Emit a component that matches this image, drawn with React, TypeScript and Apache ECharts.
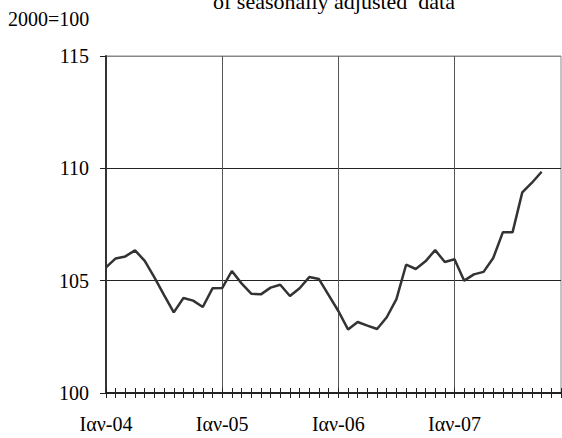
import React, { useEffect, useRef } from "react";
import * as echarts from "echarts";

const monthNames = ["Ιαν", "Φεβ", "Μαρ", "Απρ", "Μαϊ", "Ιουν", "Ιουλ", "Αυγ", "Σεπ", "Οκτ", "Νοε", "Δεκ"];
const years = ["04", "05", "06", "07"];
const categories: string[] = years.flatMap((y) => monthNames.map((m) => `${m}-${y}`));

const indexValues: (number | null)[] = [
  105.59, 105.99, 106.08, 106.35, 105.88, 105.15, 104.36, 103.59, 104.23, 104.11, 103.83, 104.66,
  104.67, 105.43, 104.88, 104.42, 104.39, 104.69, 104.82, 104.32, 104.66, 105.16, 105.07, 104.36,
  103.65, 102.83, 103.16, 103.0, 102.85, 103.37, 104.18, 105.71, 105.52, 105.86, 106.36, 105.83,
  105.95, 105.0, 105.28, 105.39, 106.01, 107.16, 107.16, 108.93, 109.36, 109.85,
];

const yTicks = { min: 100, max: 115, interval: 5 };
const titleText = "of seasonally adjusted  data";
const unitText = "2000=100";

const FONT = "'Liberation Serif', 'Times New Roman', serif";

export default function App() {
  const ref = useRef<HTMLDivElement>(null);
  useEffect(() => {
    document.body.style.margin = "0";
    if (!ref.current) return;
    const chart = echarts.init(ref.current, null, { renderer: "svg" });
    const isJan = (idx: number) => idx % 12 === 0;
    chart.setOption({
      animation: false,
      backgroundColor: "#fff",
      textStyle: { fontFamily: FONT },
      grid: {
        left: 106,
        top: 56,
        width: 455,
        height: 337,
        show: true,
        borderColor: "#888",
        borderWidth: 1,
        backgroundColor: "transparent",
      },
      graphic: [
        {
          type: "text",
          x: 8,
          y: 19,
          style: {
            text: unitText,
            font: "20px 'Liberation Serif', 'Times New Roman', serif",
            fill: "#000",
            verticalAlign: "middle",
          },
        },
        {
          type: "text",
          x: 334,
          y: 1,
          style: {
            text: titleText,
            font: "22px 'Liberation Serif', 'Times New Roman', serif",
            fill: "#000",
            align: "center",
            verticalAlign: "middle",
          },
        },
      ],
      xAxis: [
        {
          type: "category",
          data: categories,
          boundaryGap: false,
          position: "bottom",
          axisLine: { show: true, lineStyle: { color: "#222", width: 2 } },
          axisTick: { show: true, inside: false, length: 5, interval: 0, lineStyle: { color: "#222", width: 1 } },
          axisLabel: {
            interval: (idx: number) => isJan(idx),
            margin: 21,
            fontSize: 20,
            color: "#000",
            fontFamily: FONT,
          },
          splitLine: {
            show: true,
            interval: (idx: number) => isJan(idx) && idx > 0,
            lineStyle: { color: "#555", width: 1 },
          },
        },
        {
          type: "category",
          data: categories,
          boundaryGap: false,
          position: "bottom",
          axisLine: { show: false },
          axisTick: { show: true, inside: true, length: 5, interval: 0, lineStyle: { color: "#222", width: 1 } },
          axisLabel: { show: false },
          splitLine: { show: false },
        },
      ],
      yAxis: {
        type: "value",
        min: yTicks.min,
        max: yTicks.max,
        interval: yTicks.interval,
        axisLine: { show: true, lineStyle: { color: "#333", width: 2 } },
        axisTick: { show: true, inside: false, length: 6, lineStyle: { color: "#222", width: 1 } },
        axisLabel: { margin: 17, fontSize: 20, color: "#000", fontFamily: FONT },
        splitLine: { show: true, lineStyle: { color: ["#222", "#222", "#222", "#888"], width: 1 } },
      },
      series: [
        {
          type: "line",
          data: indexValues,
          xAxisIndex: 0,
          showSymbol: false,
          symbol: "none",
          lineStyle: { color: "#333", width: 2.5 },
          z: 5,
        },
      ],
    });
    return () => chart.dispose();
  }, []);
  return <div ref={ref} style={{ width: 562, height: 438 }} />;
}
